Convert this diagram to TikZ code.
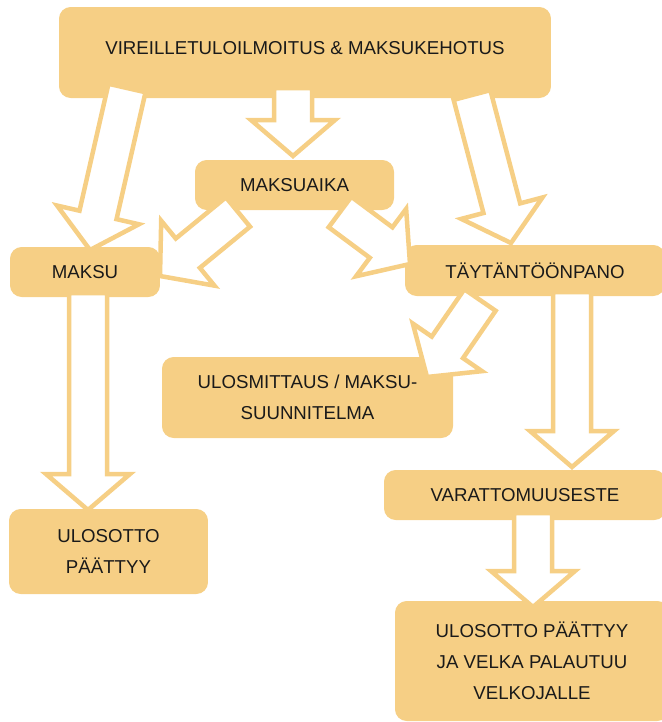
\documentclass[tikz,border=0pt]{standalone}
\usepackage{fontspec}
\setmainfont{Liberation Sans}
\usepackage{tikz}
\usetikzlibrary{calc}
\definecolor{boxc}{HTML}{F6CF85}
\definecolor{inkc}{HTML}{1A1A1A}

% hollow block arrow from #1 to #2
\newcommand{\flowarrow}[2]{%
  \coordinate (hb) at ($(#2)!21.6pt!(#1)$);
  \draw[fatarr] ($(#1)!11.4pt!90:(#2)$) -- ($(hb)!11.4pt!90:(#2)$)
    -- ($(hb)!25.2pt!90:(#2)$) -- (#2) -- ($(hb)!25.2pt!-90:(#2)$)
    -- ($(hb)!11.4pt!-90:(#2)$) -- ($(#1)!11.4pt!-90:(#2)$) -- cycle;}

\begin{document}
\begin{tikzpicture}[
  x=0.6pt, y=-0.6pt,
  box/.style={fill=boxc, rounded corners=7pt, align=center, text=inkc,
    font=\fontsize{11.2}{18.6}\selectfont, inner sep=0pt},
  fatarr/.style={draw=boxc, fill=white, line width=2.7pt, miter limit=20}
]
  \useasboundingbox (0,0) rectangle (662,722);

  \node[box, minimum width=295.2pt, minimum height=54.6pt, text depth=5.4pt] (notice) at (305,52.5)
    {VIREILLETULOILMOITUS \& MAKSUKEHOTUS};
  \node[box, minimum width=119.4pt, minimum height=30pt] (term) at (294.5,185) {MAKSUAIKA};
  \node[box, minimum width=90pt, minimum height=30pt] (paid) at (85,272) {MAKSU};
  \node[box, minimum width=156pt, minimum height=30.6pt] (enforce) at (535,270.5) {TÄYTÄNTÖÖNPANO};
  \node[box, minimum width=174.6pt, minimum height=48.6pt] (distraint) at (307.5,397.5)
    {ULOSMITTAUS / MAKSU-\\SUUNNITELMA};
  \node[box, minimum width=169.2pt, minimum height=30pt] (nomeans) at (525,495) {VARATTOMUUSESTE};
  \node[box, minimum width=119.4pt, minimum height=51pt] (endpaid) at (108.5,551.5)
    {ULOSOTTO\\PÄÄTTYY};
  \node[box, minimum width=164.4pt, minimum height=72pt] (endback) at (532,661)
    {ULOSOTTO PÄÄTTYY\\JA VELKA PALAUTUU\\VELKOJALLE};

  \coordinate (s1) at (127,88);  \coordinate (e1) at (90,250);
  \coordinate (s2) at (293,88);  \coordinate (e2) at (293,156);
  \coordinate (s3) at (472,95);  \coordinate (e3) at (511,243);
  \coordinate (s4) at (238,212); \coordinate (e4) at (160,276);
  \coordinate (s5) at (340,212); \coordinate (e5) at (410,264);
  \coordinate (s6) at (480,300); \coordinate (e6) at (427,377);
  \coordinate (s7) at (572,292); \coordinate (e7) at (572,467);
  \coordinate (s8) at (88,293);  \coordinate (e8) at (88,510);
  \coordinate (s9) at (533,513); \coordinate (e9) at (533,607);

  \flowarrow{s1}{e1}
  \flowarrow{s2}{e2}
  \flowarrow{s3}{e3}
  \flowarrow{s4}{e4}
  \flowarrow{s5}{e5}
  \flowarrow{s6}{e6}
  \flowarrow{s7}{e7}
  \flowarrow{s8}{e8}
  \flowarrow{s9}{e9}
\end{tikzpicture}
\end{document}
